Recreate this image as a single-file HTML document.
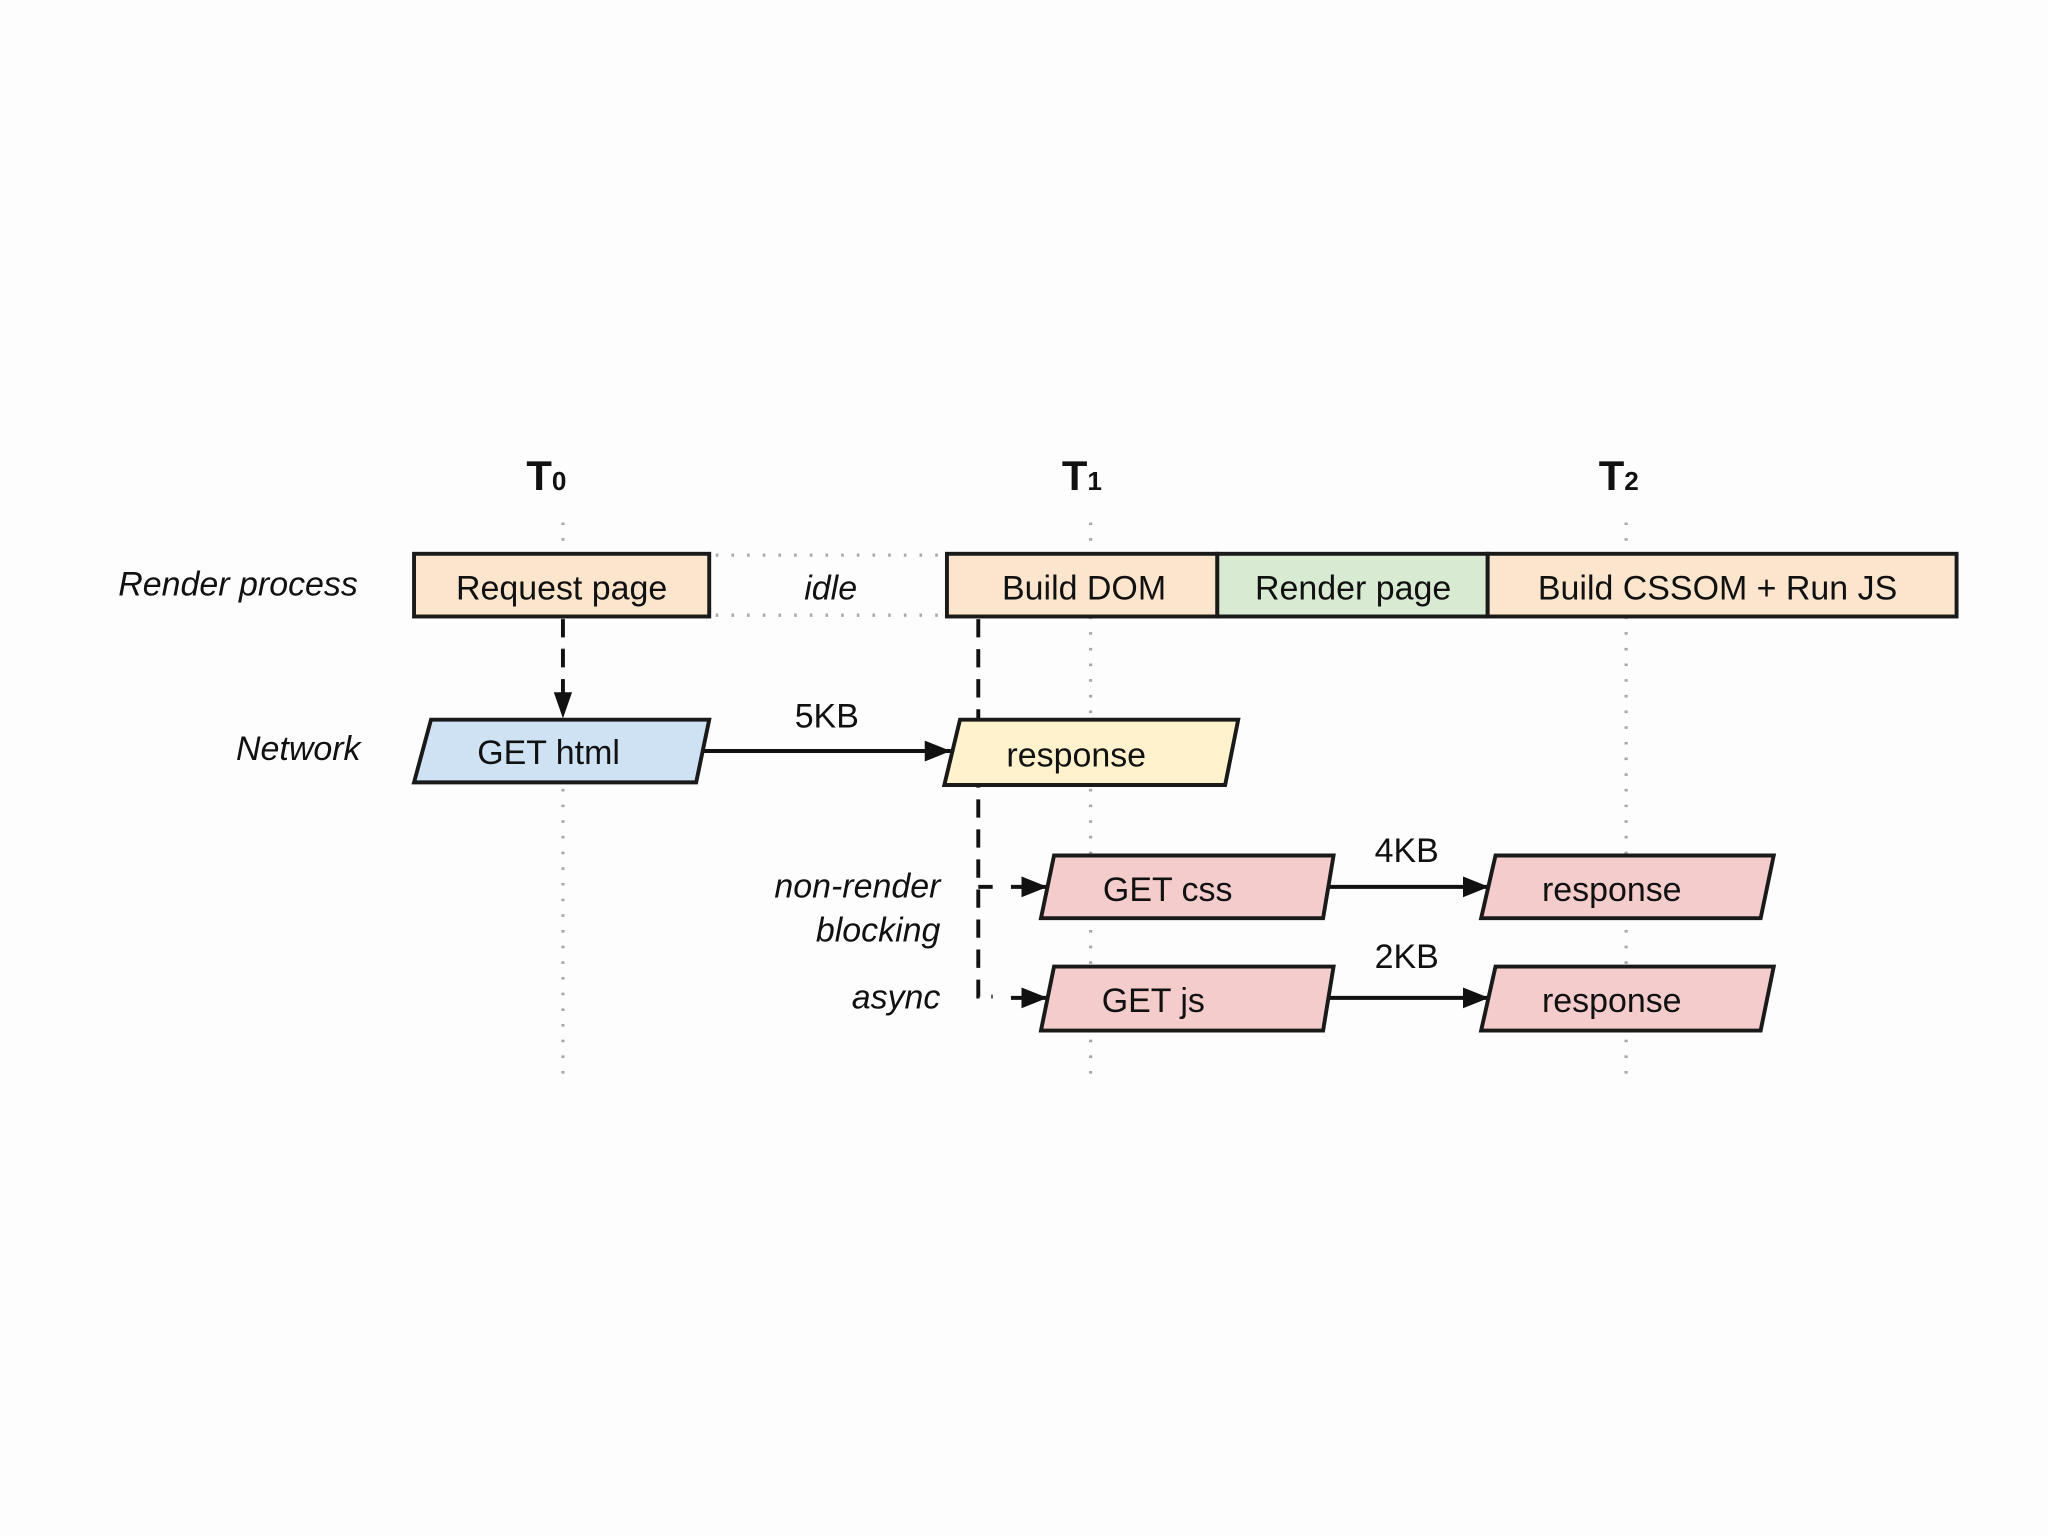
<!DOCTYPE html>
<html><head><meta charset="utf-8"><style>html,body{margin:0;padding:0;background:#fdfdfd}svg{display:block}</style></head>
<body>
<svg width="2048" height="1536" viewBox="0 0 1568 1176" xmlns="http://www.w3.org/2000/svg" font-family="Liberation Sans, Arial, sans-serif">
<defs>
<marker id="ah" markerWidth="10" markerHeight="10" refX="9" refY="5" orient="auto" markerUnits="userSpaceOnUse" viewBox="0 0 10 10">
<path d="M0,0 L10,5 L0,10 z" fill="#111"/></marker>
<marker id="ah2" markerWidth="20" markerHeight="16" refX="20" refY="8" orient="auto" markerUnits="userSpaceOnUse" viewBox="0 0 20 16">
<path d="M0,0 L20,8 L0,16 z" fill="#111"/></marker>
</defs>
<rect width="1568" height="1176" fill="#fdfdfd"/>
<!-- time labels -->
<g font-weight="bold" fill="#111">
<text x="403" y="375" font-size="32">T<tspan font-size="20">0</tspan></text>
<text x="813" y="375" font-size="32">T<tspan font-size="20">1</tspan></text>
<text x="1224" y="375" font-size="32">T<tspan font-size="20">2</tspan></text>
</g>
<!-- dotted verticals -->
<g stroke="#aaa" stroke-width="2.5" stroke-dasharray="2,10">
<line x1="431" y1="400" x2="431" y2="830"/>
<line x1="835" y1="400" x2="835" y2="830"/>
<line x1="1245" y1="400" x2="1245" y2="830"/>
</g>
<!-- idle dotted -->
<g stroke="#aaa" stroke-width="2.5" stroke-dasharray="2,10">
<line x1="548" y1="425" x2="725" y2="425"/>
<line x1="548" y1="471" x2="725" y2="471"/>
</g>
<text x="636" y="459" font-size="26" font-style="italic" text-anchor="middle" fill="#111">idle</text>
<!-- row labels -->
<g font-size="26" font-style="italic" fill="#111" text-anchor="end">
<text x="274" y="456">Render process</text>
<text x="276" y="582">Network</text>
<text x="720" y="687">non-render</text>
<text x="720" y="721">blocking</text>
<text x="720" y="772">async</text>
</g>
<!-- render boxes -->
<g stroke="#1a1a1a" stroke-width="3">
<rect x="317" y="424" width="226" height="48" fill="#fce5cd"/>
<rect x="725" y="424" width="207" height="48" fill="#fce5cd"/>
<rect x="932" y="424" width="207" height="48" fill="#d9ead3"/>
<rect x="1139" y="424" width="359" height="48" fill="#fce5cd"/>
</g>
<g font-size="26" fill="#111" text-anchor="middle">
<text x="430" y="459">Request page</text>
<text x="830" y="459">Build DOM</text>
<text x="1036" y="459">Render page</text>
<text x="1315" y="459">Build CSSOM + Run JS</text>
</g>
<!-- dashed connectors -->
<g stroke="#111" stroke-width="3" stroke-dasharray="14,9" fill="none">
<line x1="431" y1="474" x2="431" y2="535"/>
<polyline points="749,474 749,763 760,763"/>
<line x1="749" y1="679" x2="760" y2="679"/>
</g>
<path d="M424,530 L438,530 L431,550 z" fill="#111"/>
<!-- solid arrows -->
<g stroke="#111" stroke-width="3">
<line x1="538" y1="575" x2="728" y2="575" marker-end="url(#ah2)"/>
<line x1="774" y1="679" x2="802" y2="679" marker-end="url(#ah2)"/>
<line x1="774" y1="764" x2="802" y2="764" marker-end="url(#ah2)"/>
<line x1="1016" y1="679" x2="1140" y2="679" marker-end="url(#ah2)"/>
<line x1="1016" y1="764" x2="1140" y2="764" marker-end="url(#ah2)"/>
</g>
<!-- network parallelograms -->
<g stroke="#1a1a1a" stroke-width="3">
<polygon points="330,551 543,551 533,599 317,599" fill="#cfe2f3"/>
<polygon points="735,551 948,551 938,601 723,601" fill="#fff2cc"/>
<polygon points="807,655 1021,655 1013,703 797,703" fill="#f4cccc"/>
<polygon points="1145,655 1358,655 1348,703 1134,703" fill="#f4cccc"/>
<polygon points="807,740 1021,740 1013,789 797,789" fill="#f4cccc"/>
<polygon points="1145,740 1358,740 1348,789 1134,789" fill="#f4cccc"/>
</g>
<g font-size="26" fill="#111" text-anchor="middle">
<text x="420" y="585">GET html</text>
<text x="824" y="587">response</text>
<text x="894" y="690">GET css</text>
<text x="1234" y="690">response</text>
<text x="883" y="775">GET js</text>
<text x="1234" y="775">response</text>
<text x="633" y="557">5KB</text>
<text x="1077" y="660">4KB</text>
<text x="1077" y="741">2KB</text>
</g>
</svg>
</body></html>
